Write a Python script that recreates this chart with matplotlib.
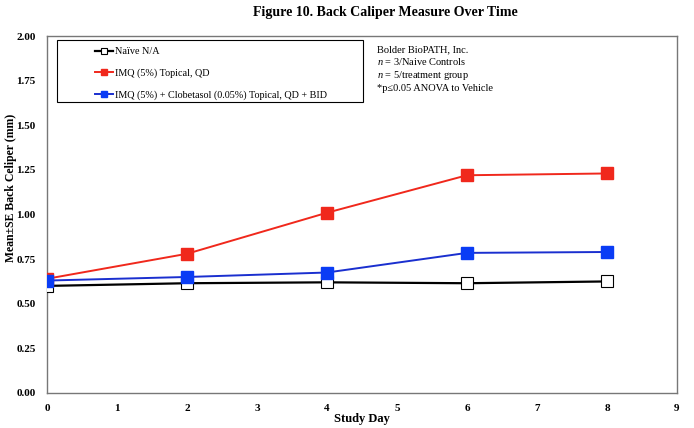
import matplotlib.pyplot as plt
from matplotlib.patches import Rectangle

days = [0, 2, 4, 6, 8]
naive = [0.60, 0.615, 0.62, 0.615, 0.625]
imq = [0.64, 0.78, 1.01, 1.22, 1.23]
imq_clob = [0.63, 0.65, 0.675, 0.785, 0.79]

plt.rcParams['font.family'] = ['Liberation Serif', 'DejaVu Serif']
plt.rcParams['mathtext.fontset'] = 'custom'
plt.rcParams['mathtext.rm'] = 'Liberation Serif'
plt.rcParams['mathtext.it'] = 'Liberation Serif:italic'

fig = plt.figure(figsize=(6.94, 4.28), dpi=100)
ax = fig.add_axes([0.0677, 0.0818, 0.9078, 0.834])

ax.plot(days, naive, color='black', lw=1.6, marker='s', ms=9,
        mfc='white', mec='black', mew=0.8, label='Naïve N/A', zorder=3)
ax.plot(days, imq, color='#f0281c', lw=1.4, marker='s', ms=9,
        mfc='#f0281c', mec='#f0281c', label='IMQ (5%) Topical, QD', zorder=4)
ax.plot(days, imq_clob, color='#1a2fcf', lw=1.4, marker='s', ms=9,
        mfc='#0a3cf5', mec='#0a3cf5',
        label='IMQ (5%) + Clobetasol (0.05%) Topical, QD + BID', zorder=5)

ax.set_xlim(0, 9)
ax.set_ylim(0, 2.0)
ax.set_xticks(range(10))
ax.set_yticks([0, 0.25, 0.5, 0.75, 1.0, 1.25, 1.5, 1.75, 2.0])
ax.set_yticklabels(['%.2f' % v for v in ax.get_yticks()])
ax.tick_params(length=0, labelsize=8, pad=8)
for lab in ax.get_xticklabels() + ax.get_yticklabels():
    lab.set_fontweight('bold')
for s in ax.spines.values():
    s.set_color('#777777')
    s.set_linewidth(1.0)

ax.set_xlabel('Study Day', fontsize=9, fontweight='bold', labelpad=0)
ax.set_ylabel('Mean±SE Back Celiper (mm)', fontsize=8.5, fontweight='bold')
ax.yaxis.set_label_coords(-0.047, 0.574)
fig.suptitle('Figure 10. Back Caliper Measure Over Time', fontsize=10,
             fontweight='bold', x=0.555, y=0.985)

# legend box drawn separately, entries indented inside it
ax.add_patch(Rectangle((0.016, 0.815), 0.486, 0.174, transform=ax.transAxes,
                       fill=False, edgecolor='black', lw=0.8, zorder=6))
leg = ax.legend(loc='upper left', bbox_to_anchor=(0.071, 0.977), fontsize=7.3,
                frameon=False, handlelength=1.8, markerscale=0.55,
                borderpad=0.3, labelspacing=1.2, handletextpad=0.2,
                borderaxespad=0)

ax.text(0.524, 0.975,
        'Bolder BioPATH, Inc.\n$n$ = 3/Naive Controls\n$n$ = 5/treatment group\n*p≤0.05 ANOVA to Vehicle',
        transform=ax.transAxes, fontsize=7.5, va='top', ha='left', linespacing=1.25)

fig.savefig('out.png', dpi=100)
